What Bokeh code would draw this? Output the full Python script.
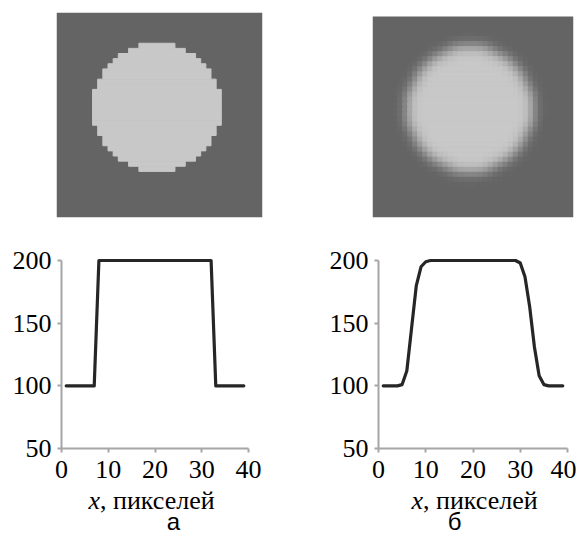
import numpy as np
from bokeh.plotting import figure
from bokeh.layouts import column, row
from bokeh.models import Range1d, Label, ColumnDataSource, FixedTicker
from bokeh.embed import file_html
from bokeh.resources import INLINE

# ---------------- data ----------------
image_size = 40
background_level = 100
circle_level = 200
# rows (counted from the top) occupied by the sharp circle, first and last lit column of each row
circle_rows = [6, 7, 8, 9, 10, 11, 12, 13, 14, 15, 16, 17, 18,
               19, 20, 21, 22, 23, 24, 25, 26, 27, 28, 29, 30]
circle_row_start = [16, 14, 12, 11, 10, 9, 9, 8, 8, 7, 7, 7, 7,
                    7, 7, 7, 8, 8, 9, 9, 10, 11, 12, 14, 16]
circle_row_end = [22, 24, 26, 27, 28, 29, 29, 30, 30, 31, 31, 31, 31,
                  31, 31, 31, 30, 30, 29, 29, 28, 27, 26, 24, 22]
blur_sigma = 1.2

profile_x = [1, 2, 3, 4, 5, 6, 7, 8, 9, 10, 11, 12, 13, 14, 15, 16, 17, 18, 19, 20,
             21, 22, 23, 24, 25, 26, 27, 28, 29, 30, 31, 32, 33, 34, 35, 36, 37, 38, 39]
profile_a = [100, 100, 100, 100, 100, 100, 100, 200, 200, 200, 200, 200, 200, 200, 200, 200,
             200, 200, 200, 200, 200, 200, 200, 200, 200, 200, 200, 200, 200, 200, 200, 200,
             100, 100, 100, 100, 100, 100, 100]
profile_b = [100, 100, 100, 100, 101, 112, 146, 180, 195, 199, 200, 200, 200, 200, 200, 200,
             200, 200, 200, 200, 200, 200, 200, 200, 200, 200, 200, 200, 200, 198, 187, 163,
             131, 108, 101, 100, 100, 100, 100]
x_ticks = [0, 10, 20, 30, 40]
y_ticks = [50, 100, 150, 200]
x_min, x_max = 0, 40
y_min, y_max = 50, 200
x_label_italic = "x"
x_label_rest = ", пикселей"
captions = ["а", "б"]

# ---------------- images ----------------
sharp = np.full((image_size, image_size), float(background_level))
for r, c0, c1 in zip(circle_rows, circle_row_start, circle_row_end):
    sharp[r, c0:c1 + 1] = circle_level

rad = 4
kern = np.exp(-(np.arange(-rad, rad + 1) ** 2) / (2 * blur_sigma ** 2))
kern /= kern.sum()
pad = np.pad(sharp, rad, mode="edge")
tmp = np.apply_along_axis(lambda v: np.convolve(v, kern, mode="valid"), 1, pad)
blurred = np.apply_along_axis(lambda v: np.convolve(v, kern, mode="valid"), 0, tmp)


def grey(v):
    g = int(round(min(255, max(0, v))))
    return "#%02x%02x%02x" % (g, g, g)


def runs_source(arr):
    """Horizontal runs of equal colour (cells that differ from the background)."""
    L, R, T, B, C = [], [], [], [], []
    for r in range(arr.shape[0]):
        c = 0
        while c < arr.shape[1]:
            col = grey(arr[r, c])
            e = c
            while e + 1 < arr.shape[1] and grey(arr[r, e + 1]) == col:
                e += 1
            if col != grey(background_level):
                L.append(c); R.append(e + 1); T.append(r); B.append(r + 1); C.append(col)
            c = e + 1
    return ColumnDataSource(dict(left=L, right=R, top=T, bottom=B, color=C))


OX, OY = 1, 0            # page position of the layout origin
W_L, W_R = 316, 260
H1, H2 = 236, 301


def image_fig(arr, w, bl, br, y_top):
    p = figure(width=w, height=H1, output_backend="svg", toolbar_location=None,
               x_range=Range1d(0, image_size), y_range=Range1d(image_size, y_top),
               x_axis_location=None, y_axis_location=None,
               min_border_left=bl, min_border_right=br, min_border_top=12, min_border_bottom=19)
    p.grid.visible = False
    p.outline_line_color = None
    p.background_fill_color = "white"
    p.quad(left=[0], right=[image_size], top=[0], bottom=[image_size],
           fill_color=grey(background_level), line_color=None)
    p.quad(left="left", right="right", top="top", bottom="bottom", source=runs_source(arr),
           fill_color="color", line_color="color", line_width=1.0)
    return p


img_a = image_fig(sharp, W_L, 56, 54, 0)
img_b = image_fig(blurred, W_R, 56, 3, -4 / 201 * image_size)

SERIF = "Liberation Serif"
SANS = "Liberation Sans"

PX_PER_Y = 188 / (y_max - y_min)   # vertical scale of the reference plots
FIG_TOP = OY + H1                    # page y of the plot figures' top
Y200_PAGE = 260                      # page y of the value 200


def plot_fig(ys, w, fig_left, x0_page, x40_page, lbl_px, cap_px, cap):
    pxu = (x40_page - x0_page) / (x_max - x_min)
    xs0 = x_min - (x0_page - fig_left) / pxu
    xs1 = xs0 + w / pxu
    y_end = y_max + (Y200_PAGE - FIG_TOP) / PX_PER_Y
    y_start = y_end - H2 / PX_PER_Y
    p = figure(width=w, height=H2, output_backend="svg", toolbar_location=None,
               x_range=Range1d(xs0, xs1), y_range=Range1d(y_start, y_end),
               min_border=0, min_border_left=0, min_border_right=0,
               min_border_top=0, min_border_bottom=0)
    p.grid.visible = False
    p.outline_line_color = None
    p.line(profile_x, ys, line_color="#262626", line_width=3.2, line_join="round", line_cap="round")
    p.xaxis.fixed_location = y_min
    p.yaxis.fixed_location = x_min
    p.xaxis.bounds = (x_min, x_max)
    p.yaxis.bounds = (y_min, y_max)
    for ax, ticks, so in ((p.xaxis, x_ticks, 8), (p.yaxis, y_ticks, 6)):
        ax.ticker = FixedTicker(ticks=ticks)
        ax.axis_line_color = "#a6a6a6"
        ax.axis_line_width = 2
        ax.major_tick_line_color = "#a6a6a6"
        ax.major_tick_line_width = 2
        ax.major_tick_out = 4
        ax.major_tick_in = 0
        ax.minor_tick_line_color = None
        ax.major_label_text_font = SERIF
        ax.major_label_text_font_size = "26px"
        ax.major_label_text_color = "black"
        ax.major_label_standoff = so

    def dx(px):
        return xs0 + (px - fig_left) / pxu

    def dy(py):
        return y_end - (py - FIG_TOP) / PX_PER_Y

    base = 500
    p.add_layout(Label(x=dx(lbl_px), y=dy(base), text=x_label_italic, text_font=SERIF,
                       text_font_style="italic", text_font_size="26px", text_color="black",
                       text_baseline="alphabetic", text_align="left"))
    p.add_layout(Label(x=dx(lbl_px + 11.5), y=dy(base), text=x_label_rest, text_font=SERIF,
                       text_font_size="26px", text_color="black",
                       text_baseline="alphabetic", text_align="left"))
    p.add_layout(Label(x=dx(cap_px), y=dy(521), text=cap, text_font=SANS,
                       text_font_size="24px", text_color="black",
                       text_baseline="alphabetic", text_align="center"))
    return p


plot_a = plot_fig(profile_a, W_L, OX, 62, 249, 89, 174, captions[0])
plot_b = plot_fig(profile_b, W_R, OX + W_L, 379, 568, 412, 455, captions[1])

layout = column(row(img_a, img_b), row(plot_a, plot_b))
open("out.html", "w").write(file_html(layout, INLINE))
